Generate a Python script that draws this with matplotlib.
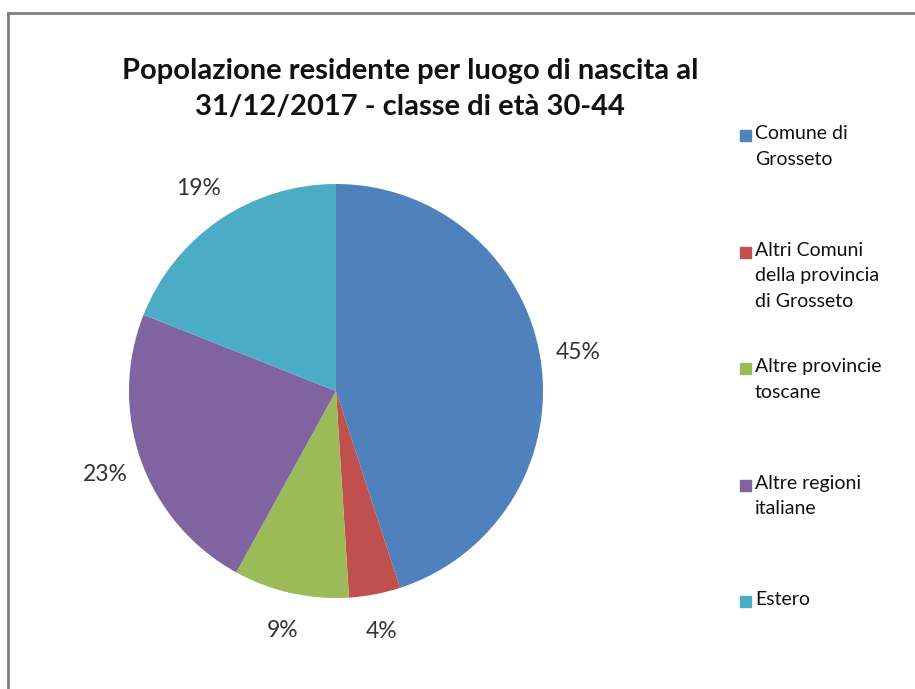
import matplotlib.pyplot as plt
from matplotlib.lines import Line2D
from matplotlib.patches import Rectangle

# dati
categorie = ["Comune di\nGrosseto", "Altri Comuni\ndella provincia\ndi Grosseto",
             "Altre provincie\ntoscane", "Altre regioni\nitaliane", "Estero"]
percentuali = [45, 4, 9, 23, 19]
colori = ["#4F81BD", "#C0504D", "#9BBB59", "#8064A2", "#4BACC6"]
titolo = "Popolazione residente per luogo di nascita al\n31/12/2017 - classe di età 30-44"

plt.rcParams['font.family'] = ['Lato', 'DejaVu Sans']

fig = plt.figure(figsize=(9.15, 6.89), dpi=100)
fig.patch.set_facecolor("white")

# cornice grigia (solo lati visibili)
fig.add_artist(Line2D([0.0085, 0.0085], [0, 1 - 12.5 / 689], transform=fig.transFigure,
                      color="#7f7f7f", lw=2))
fig.add_artist(Line2D([0.0085, 1], [1 - 12.5 / 689, 1 - 12.5 / 689], transform=fig.transFigure,
                      color="#7f7f7f", lw=2))

# torta
ax = fig.add_axes([129 / 915, 91 / 689, 414 / 915, 414 / 689])
wedges, testi, autotesti = ax.pie(percentuali, colors=colori, startangle=90, counterclock=False,
                                  autopct="%d%%", pctdistance=1.185,
                                  textprops=dict(fontsize=16.5, color="#333333"))
ax.set_xlim(-1, 1)
ax.set_ylim(-1, 1)
ax.set_aspect("equal")
for t in autotesti:
    t.set_clip_on(False)

# titolo
fig.text(410 / 915, 1 - 89 / 689, titolo, ha="center", va="center", fontsize=21,
         fontweight="bold", linespacing=1.45, color="#111111")

# legenda
top = 125
for i, (cat, col) in enumerate(zip(categorie, colori)):
    y = top + i * 116.5
    fig.add_artist(Rectangle((740 / 915, 1 - (y + 16) / 689), 11 / 915, 11 / 689,
                             transform=fig.transFigure, color=col))
    fig.text(755 / 915, 1 - y / 689, cat, ha="left", va="top", fontsize=14,
             linespacing=1.62, color="#111111")

plt.savefig("out.png", dpi=100)
